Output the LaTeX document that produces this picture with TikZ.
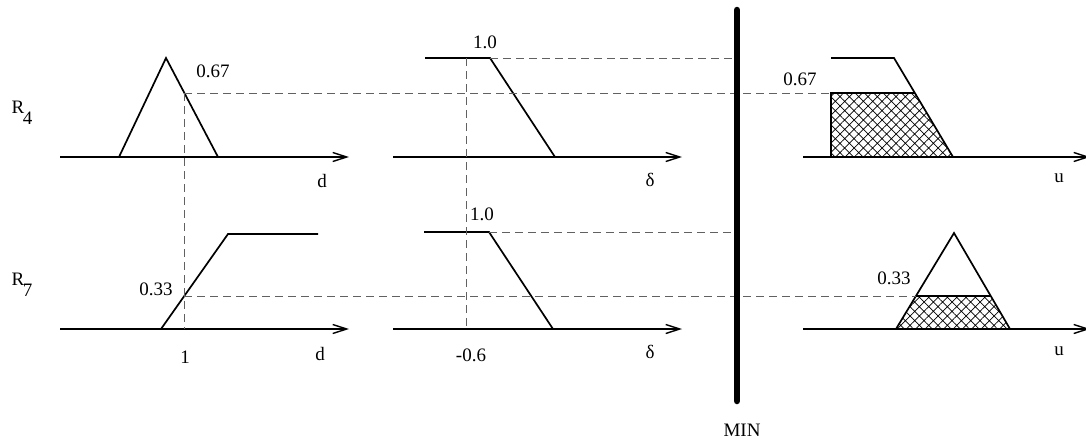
\documentclass[tikz,border=0pt]{standalone}
\usepackage{fontspec}
\setmainfont{Liberation Serif}
\usetikzlibrary{arrows.meta, patterns.meta}

\begin{document}
\begin{tikzpicture}[x=1pt, y=-1pt,
  axis/.style={line width=1.7pt, -{Straight Barb[length=14pt, width=9pt, line width=1.4pt]}},
  mf/.style={line width=1.7pt, line join=miter},
  guide/.style={dash pattern=on 8pt off 5pt, draw=black!62, line width=1pt},
  hatch/.style={pattern={Hatch[angle=45, distance=6.6pt, line width=0.7pt]}},
  lbl/.style={font=\fontsize{19}{22}\selectfont, inner sep=0pt},
  minbar/.style={line width=6.5pt, line cap=round}
]
\useasboundingbox (0,0) rectangle (1086,442);

% rule R4
\node[lbl] (r4) at (22,113) {R\kern-1.5pt\raisebox{-0.6em}{4}};
\draw[axis] (60,157) -- (349,157);
\draw[mf] (119,157) -- (166,58) -- (218,157);
\draw[axis] (393,157) -- (682,157);
\draw[mf] (425,58) -- (490,58) -- (555,157);
\fill[hatch] (831,157) -- (831,93) -- (915,93) -- (953,157) -- cycle;
\draw[mf] (831,157) -- (831,93) -- (915,93);
\draw[mf] (831,58) -- (894,58) -- (953,157);
\draw[axis] (803,157) -- (1090,157);

% rule R7
\node[lbl] (r7) at (22,285) {R\kern-1.5pt\raisebox{-0.6em}{7}};
\draw[axis] (60,329) -- (349,329);
\draw[mf] (161,329) -- (228,234) -- (318,234);
\draw[axis] (393,329) -- (682,329);
\draw[mf] (424,232) -- (489,232) -- (553,329);
\fill[hatch] (896,329) -- (916,296) -- (991,296) -- (1010,329) -- cycle;
\draw[mf] (916,296) -- (991,296);
\draw[mf] (896,329) -- (954,233) -- (1010,329);
\draw[axis] (803,329) -- (1090,329);

% guide lines
\coordinate (d1) at (184,93);
\coordinate (d2) at (184,296);
\coordinate (e1) at (466,58);
\coordinate (e2) at (466,232);
\draw[guide] (d1) -- (831,93);
\draw[guide] (d1) -- (184,329);
\draw[guide] (d2) -- (916,296);
\draw[guide] (490,58) -- (736,58);
\draw[guide] (e1) -- (466,329);
\draw[guide] (489,232) -- (736,232);

\draw[minbar] (737,10) -- (737,401);

% labels
\node[lbl] (mu4) at (213,71) {0.67};
\node[lbl] (one4) at (485,42) {1.0};
\node[lbl] (cut4) at (800,79) {0.67};
\node[lbl] (d4) at (322,181) {d};
\node[lbl] (del4) at (650,180) {δ};
\node[lbl] (u4) at (1059,178) {u};
\node[lbl] (mu7) at (156,289) {0.33};
\node[lbl] (one7) at (482,214) {1.0};
\node[lbl] (cut7) at (894,278) {0.33};
\node[lbl] (x1) at (185,357) {1};
\node[lbl] (x2) at (471,355) {-0.6};
\node[lbl] (d7) at (320,354) {d};
\node[lbl] (del7) at (650,352) {δ};
\node[lbl] (u7) at (1059,351) {u};
\node[lbl] (min) at (742,430) {MIN};
\end{tikzpicture}
\end{document}
